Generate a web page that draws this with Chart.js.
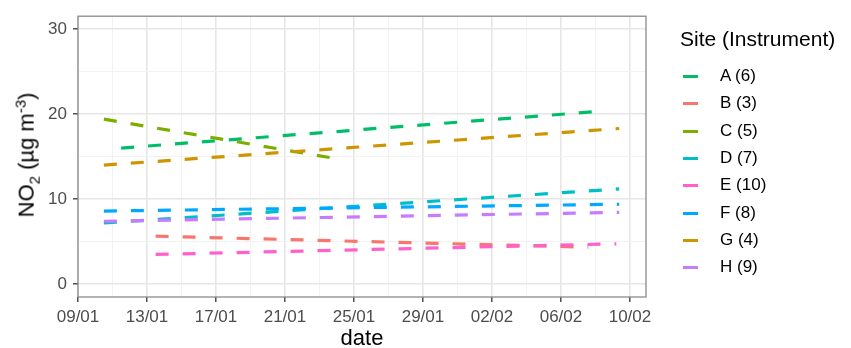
<!DOCTYPE html>
<html>
<head>
<meta charset="utf-8">
<script src="https://cdn.jsdelivr.net/npm/chart.js@4.4.1/dist/chart.umd.min.js"></script>
<style>
  body { margin: 0; background: #fff; font-family: "Liberation Sans", Arial, sans-serif; }
  #wrap { position: relative; width: 851px; height: 348px; }
  #ytitle {
    position: absolute; left: 27px; top: 155px;
    transform: translate(-50%, -50%) rotate(-90deg);
    font-size: 22px; color: #000; white-space: nowrap;
  }
  #ytitle sub, #ytitle sup { font-size: 15px; }
  #legend { position: absolute; left: 680px; top: 0; }
  #legend .title { position: absolute; top: 27px; left: 0; font-size: 21px; white-space: nowrap; }
  #legend .item { position: absolute; left: 0; height: 20px; width: 160px; }
  #legend .key { position: absolute; left: 3px; top: 9px; width: 15px; height: 3px; }
  #legend .lab { position: absolute; left: 40px; top: 0; font-size: 17px; line-height: 20px; color: #000; white-space: nowrap; }
</style>
</head>
<body>
<div id="wrap">
  <canvas id="chart" width="851" height="348"></canvas>
  <div id="ytitle">NO<sub>2</sub> (µg m<sup>-3</sup>)</div>
  <div id="legend"></div>
</div>
<script>
// sites (legend order) and their colours
const sites = ['A (6)', 'B (3)', 'C (5)', 'D (7)', 'E (10)', 'F (8)', 'G (4)', 'H (9)'];
const colours = ['#00BE67', '#F8766D', '#7CAE00', '#00BFC4', '#FF61CC', '#00A9FF', '#CD9600', '#C77CFF'];

// trend line ends (dates and NO2 in ug/m3)
const startDates = ['2021-01-11T12:00', '2021-01-13T12:00', '2021-01-10T12:00', '2021-01-10T12:00',
                    '2021-01-13T12:00', '2021-01-10T12:00', '2021-01-10T12:00', '2021-01-10T12:00'];
const endDates   = ['2021-02-08T10:00', '2021-02-07T14:00', '2021-01-24T00:00', '2021-02-09T09:00',
                    '2021-02-09T05:00', '2021-02-09T09:00', '2021-02-09T09:00', '2021-02-09T09:00'];
const startValues = [16.0, 5.65, 19.4, 7.2, 3.5, 8.6, 14.0, 7.4];
const endValues   = [20.35, 4.35, 14.75, 11.2, 4.75, 9.4, 18.3, 8.45];

// axis ticks
const xTickDates = ['09/01', '13/01', '17/01', '21/01', '25/01', '29/01', '02/02', '06/02', '10/02'];
const yTickValues = [0, 10, 20, 30];

const origin = Date.parse('2021-01-09T00:00:00Z');
const toDays = s => (Date.parse(s + ':00Z') - origin) / 86400000;
const xMajor = xTickDates.map((_, i) => i * 4);

const datasets = sites.map((s, i) => ({
  label: s,
  data: [
    { x: toDays(startDates[i]), y: startValues[i] },
    { x: toDays(endDates[i]), y: endValues[i] }
  ],
  borderColor: colours[i],
  borderWidth: 3.2,
  borderDash: [13, 14],
  borderCapStyle: 'butt',
  pointRadius: 0,
  tension: 0,
  order: sites.length - i
}));

// html legend
const legend = document.getElementById('legend');
legend.innerHTML = '<div class="title">Site (Instrument)</div>' + sites.map((s, i) =>
  `<div class="item" style="top:${66 + i * 27.3}px"><div class="key" style="background:${colours[i]}"></div><div class="lab">${s}</div></div>`
).join('');

const panelBorder = {
  id: 'panelBorder',
  afterDraw(chart) {
    const { ctx, chartArea: a } = chart;
    ctx.save();
    ctx.strokeStyle = '#8a8a8a';
    ctx.lineWidth = 1.3;
    ctx.strokeRect(a.left, a.top, a.right - a.left, a.bottom - a.top);
    ctx.restore();
  }
};

const tickFont = { family: '"Liberation Sans", Arial, sans-serif', size: 17 };

new Chart(document.getElementById('chart'), {
  type: 'line',
  data: { datasets },
  options: {
    responsive: false,
    devicePixelRatio: 1,
    animation: false,
    layout: { padding: { top: 12, right: 205, left: 0, bottom: 0 } },
    plugins: { legend: { display: false }, tooltip: { enabled: false } },
    scales: {
      x: {
        type: 'linear',
        min: 0,
        max: 32.93,
        afterBuildTicks: scale => {
          const t = [];
          for (let v = 0; v <= 32; v += 2) t.push({ value: v });
          scale.ticks = t;
        },
        afterFit: scale => { scale.height = 51; },
        ticks: {
          autoSkip: false,
          maxRotation: 0,
          padding: 5,
          color: '#4D4D4D',
          font: tickFont,
          callback: v => (xMajor.includes(v) ? xTickDates[v / 4] : '')
        },
        grid: {
          color: c => (c.tick && c.tick.value % 4 === 0 ? '#E6E6E6' : '#F2F2F2'),
          lineWidth: c => (c.tick && c.tick.value % 4 === 0 ? 1.6 : 1),
          tickColor: c => (c.tick && c.tick.value % 4 === 0 ? '#333333' : 'rgba(0,0,0,0)'),
          tickLength: 5,
          tickWidth: 1.3
        },
        border: { display: false },
        title: {
          display: true,
          text: 'date',
          color: '#000',
          font: { family: '"Liberation Sans", Arial, sans-serif', size: 22, lineHeight: 0.8 },
          padding: { top: 0, bottom: 0 }
        }
      },
      y: {
        type: 'linear',
        min: -1.5,
        max: 31.5,
        afterBuildTicks: scale => {
          const t = [];
          for (let v = 0; v <= 30; v += 5) t.push({ value: v });
          scale.ticks = t;
        },
        afterFit: scale => { scale.width = 78; },
        ticks: {
          padding: 6,
          color: '#4D4D4D',
          font: tickFont,
          callback: v => (yTickValues.includes(v) ? String(v) : '')
        },
        grid: {
          color: c => (c.tick && c.tick.value % 10 === 0 ? '#E6E6E6' : '#F2F2F2'),
          lineWidth: c => (c.tick && c.tick.value % 10 === 0 ? 1.6 : 1),
          tickColor: c => (c.tick && c.tick.value % 10 === 0 ? '#333333' : 'rgba(0,0,0,0)'),
          tickLength: 5,
          tickWidth: 1.3
        },
        border: { display: false }
      }
    }
  },
  plugins: [panelBorder]
});
</script>
</body>
</html>
